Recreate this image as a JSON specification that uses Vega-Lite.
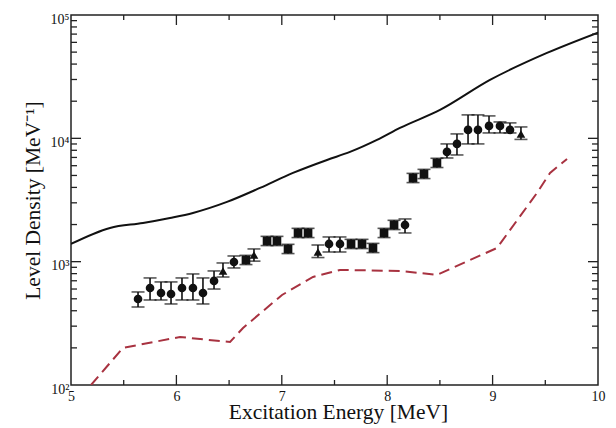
{
  "$schema": "https://vega.github.io/schema/vega-lite/v6.json",
  "width": 527,
  "height": 370,
  "autosize": "none",
  "padding": {"left": 71, "top": 15, "right": 18, "bottom": 43},
  "background": "white",
  "config": {
    "view": {"stroke": "#222", "strokeWidth": 1.5},
    "font": "Liberation Serif",
    "axis": {"labelFont": "Liberation Serif", "titleFont": "Liberation Serif", "labelColor": "#111", "titleColor": "#111", "titleFontWeight": "normal", "grid": false, "domain": false, "ticks": false}
  },
  "datasets": {
    "points": [
      {"E": 5.636, "v": 498, "lo": 429, "hi": 568, "m": "circle"},
      {"E": 5.75, "v": 612, "lo": 489, "hi": 738, "m": "circle"},
      {"E": 5.854, "v": 557, "lo": 489, "hi": 685, "m": "circle"},
      {"E": 5.949, "v": 547, "lo": 454, "hi": 685, "m": "circle"},
      {"E": 6.053, "v": 612, "lo": 489, "hi": 738, "m": "circle"},
      {"E": 6.157, "v": 612, "lo": 489, "hi": 795, "m": "circle"},
      {"E": 6.252, "v": 557, "lo": 454, "hi": 738, "m": "circle"},
      {"E": 6.357, "v": 698, "lo": 600, "hi": 841, "m": "circle"},
      {"E": 6.442, "v": 841, "lo": 751, "hi": 976, "m": "triangle"},
      {"E": 6.546, "v": 994, "lo": 889, "hi": 1112, "m": "circle"},
      {"E": 6.66, "v": 1032, "lo": 947, "hi": 1125, "m": "square"},
      {"E": 6.736, "v": 1133, "lo": 1010, "hi": 1268, "m": "triangle"},
      {"E": 6.86, "v": 1472, "lo": 1350, "hi": 1604, "m": "square"},
      {"E": 6.954, "v": 1472, "lo": 1350, "hi": 1604, "m": "square"},
      {"E": 7.059, "v": 1268, "lo": 1163, "hi": 1382, "m": "square"},
      {"E": 7.154, "v": 1709, "lo": 1568, "hi": 1863, "m": "square"},
      {"E": 7.249, "v": 1709, "lo": 1568, "hi": 1863, "m": "square"},
      {"E": 7.343, "v": 1198, "lo": 1080, "hi": 1365, "m": "triangle"},
      {"E": 7.448, "v": 1392, "lo": 1198, "hi": 1586, "m": "circle"},
      {"E": 7.552, "v": 1392, "lo": 1198, "hi": 1586, "m": "circle"},
      {"E": 7.657, "v": 1392, "lo": 1277, "hi": 1517, "m": "square"},
      {"E": 7.761, "v": 1392, "lo": 1277, "hi": 1517, "m": "square"},
      {"E": 7.865, "v": 1291, "lo": 1184, "hi": 1407, "m": "square"},
      {"E": 7.97, "v": 1709, "lo": 1568, "hi": 1863, "m": "square"},
      {"E": 8.065, "v": 1985, "lo": 1821, "hi": 2164, "m": "square"},
      {"E": 8.169, "v": 1985, "lo": 1709, "hi": 2220, "m": "circle"},
      {"E": 8.245, "v": 4770, "lo": 4376, "hi": 5199, "m": "square"},
      {"E": 8.349, "v": 5140, "lo": 4716, "hi": 5603, "m": "square"},
      {"E": 8.472, "v": 6320, "lo": 5798, "hi": 6889, "m": "square"},
      {"E": 8.567, "v": 7760, "lo": 6930, "hi": 9010, "m": "circle"},
      {"E": 8.662, "v": 9010, "lo": 7330, "hi": 10860, "m": "circle"},
      {"E": 8.767, "v": 11700, "lo": 9010, "hi": 15490, "m": "circle"},
      {"E": 8.861, "v": 11700, "lo": 9010, "hi": 15490, "m": "circle"},
      {"E": 8.966, "v": 12610, "lo": 11060, "hi": 15200, "m": "circle"},
      {"E": 9.07, "v": 12610, "lo": 11060, "hi": 13580, "m": "circle"},
      {"E": 9.165, "v": 11700, "lo": 11060, "hi": 13340, "m": "circle"},
      {"E": 9.269, "v": 10860, "lo": 9800, "hi": 12370, "m": "triangle"}
    ],
    "solid": [
      {"E": 5.0, "v": 1392},
      {"E": 5.37, "v": 1877},
      {"E": 5.683, "v": 2060},
      {"E": 5.939, "v": 2262},
      {"E": 6.157, "v": 2483},
      {"E": 6.48, "v": 3050},
      {"E": 6.793, "v": 3960},
      {"E": 7.106, "v": 5243},
      {"E": 7.429, "v": 6680},
      {"E": 7.647, "v": 7757},
      {"E": 7.903, "v": 9705},
      {"E": 8.121, "v": 12140},
      {"E": 8.501, "v": 16995},
      {"E": 8.975, "v": 29760},
      {"E": 9.516, "v": 49270},
      {"E": 10.0, "v": 72000}
    ],
    "dashed": [
      {"E": 5.19, "v": 100},
      {"E": 5.493, "v": 200},
      {"E": 6.034, "v": 245},
      {"E": 6.509, "v": 223},
      {"E": 6.632, "v": 290},
      {"E": 7.002, "v": 537},
      {"E": 7.296, "v": 751},
      {"E": 7.552, "v": 857},
      {"E": 8.121, "v": 841},
      {"E": 8.472, "v": 781},
      {"E": 9.042, "v": 1292},
      {"E": 9.421, "v": 3607},
      {"E": 9.545, "v": 5240},
      {"E": 9.706, "v": 6810}
    ],
    "xmajor": [{"t": 6}, {"t": 7}, {"t": 8}, {"t": 9}],
    "xminor": [{"t": 5.5}, {"t": 6.5}, {"t": 7.5}, {"t": 8.5}, {"t": 9.5}],
    "ymajor": [{"t": 1000}, {"t": 10000}],
    "yminor": [{"t": 200}, {"t": 300}, {"t": 400}, {"t": 500}, {"t": 600}, {"t": 700}, {"t": 800}, {"t": 900}, {"t": 2000}, {"t": 3000}, {"t": 4000}, {"t": 5000}, {"t": 6000}, {"t": 7000}, {"t": 8000}, {"t": 9000}, {"t": 20000}, {"t": 30000}, {"t": 40000}, {"t": 50000}, {"t": 60000}, {"t": 70000}, {"t": 80000}, {"t": 90000}]
  },
  "layer": [
    {
      "data": {"name": "solid"},
      "mark": {"type": "line", "interpolate": "monotone", "color": "#111", "strokeWidth": 2, "clip": true},
      "encoding": {
        "x": {"field": "E", "type": "quantitative", "scale": {"domain": [5, 10], "nice": false, "zero": false},
          "axis": {"title": "Excitation Energy [MeV]", "titleFontSize": 21.5, "titleY": 33, "titleX": 267, "titleBaseline": "alphabetic", "values": [5, 6, 7, 8, 9, 10], "format": "d", "labelFontSize": 14, "labelPadding": 4, "labelFlush": false, "labelOverlap": false}},
        "y": {"field": "v", "type": "quantitative", "scale": {"type": "log", "domain": [100, 100000], "nice": false},
          "axis": {"title": "Level Density [MeV⁻¹]", "titleFontSize": 21.5, "titlePadding": 6, "values": [100, 1000, 10000, 100000], "labelExpr": "datum.value === 100 ? '10²' : datum.value === 1000 ? '10³' : datum.value === 10000 ? '10⁴' : '10⁵'", "labelFontSize": 14, "labelPadding": 2, "labelOffset": 4, "labelFlush": false, "labelOverlap": false}}
      }
    },
    {
      "data": {"name": "dashed"},
      "mark": {"type": "line", "color": "#a83240", "strokeWidth": 2, "strokeDash": [11, 6], "clip": true},
      "encoding": {
        "x": {"field": "E", "type": "quantitative",
          "axis": {"title": "Excitation Energy [MeV]", "titleFontSize": 21.5, "titleY": 33, "titleX": 267, "titleBaseline": "alphabetic", "values": [5, 6, 7, 8, 9, 10], "format": "d", "labelFontSize": 14, "labelPadding": 4, "labelFlush": false, "labelOverlap": false}},
        "y": {"field": "v", "type": "quantitative",
          "axis": {"title": "Level Density [MeV⁻¹]", "titleFontSize": 21.5, "titlePadding": 6, "values": [100, 1000, 10000, 100000], "labelExpr": "datum.value === 100 ? '10²' : datum.value === 1000 ? '10³' : datum.value === 10000 ? '10⁴' : '10⁵'", "labelFontSize": 14, "labelPadding": 2, "labelOffset": 4, "labelFlush": false, "labelOverlap": false}}
      }
    },
    {
      "data": {"name": "xmajor"},
      "mark": {"type": "rule", "color": "#222", "strokeWidth": 1.3},
      "encoding": {
        "x": {"field": "t", "type": "quantitative",
          "axis": {"title": "Excitation Energy [MeV]", "titleFontSize": 21.5, "titleY": 33, "titleX": 267, "titleBaseline": "alphabetic", "values": [5, 6, 7, 8, 9, 10], "format": "d", "labelFontSize": 14, "labelPadding": 4, "labelFlush": false, "labelOverlap": false}},
        "y": {"datum": 100, "type": "quantitative",
          "axis": {"title": "Level Density [MeV⁻¹]", "titleFontSize": 21.5, "titlePadding": 6, "values": [100, 1000, 10000, 100000], "labelExpr": "datum.value === 100 ? '10²' : datum.value === 1000 ? '10³' : datum.value === 10000 ? '10⁴' : '10⁵'", "labelFontSize": 14, "labelPadding": 2, "labelOffset": 4, "labelFlush": false, "labelOverlap": false}},
        "y2": {"datum": 120.5}}
    },
    {
      "data": {"name": "xmajor"},
      "mark": {"type": "rule", "color": "#222", "strokeWidth": 1.3},
      "encoding": {
        "x": {"field": "t", "type": "quantitative",
          "axis": {"title": "Excitation Energy [MeV]", "titleFontSize": 21.5, "titleY": 33, "titleX": 267, "titleBaseline": "alphabetic", "values": [5, 6, 7, 8, 9, 10], "format": "d", "labelFontSize": 14, "labelPadding": 4, "labelFlush": false, "labelOverlap": false}},
        "y": {"datum": 100000, "type": "quantitative",
          "axis": {"title": "Level Density [MeV⁻¹]", "titleFontSize": 21.5, "titlePadding": 6, "values": [100, 1000, 10000, 100000], "labelExpr": "datum.value === 100 ? '10²' : datum.value === 1000 ? '10³' : datum.value === 10000 ? '10⁴' : '10⁵'", "labelFontSize": 14, "labelPadding": 2, "labelOffset": 4, "labelFlush": false, "labelOverlap": false}},
        "y2": {"datum": 83000}}
    },
    {
      "data": {"name": "xminor"},
      "mark": {"type": "rule", "color": "#222", "strokeWidth": 1.3},
      "encoding": {
        "x": {"field": "t", "type": "quantitative",
          "axis": {"title": "Excitation Energy [MeV]", "titleFontSize": 21.5, "titleY": 33, "titleX": 267, "titleBaseline": "alphabetic", "values": [5, 6, 7, 8, 9, 10], "format": "d", "labelFontSize": 14, "labelPadding": 4, "labelFlush": false, "labelOverlap": false}},
        "y": {"datum": 100, "type": "quantitative",
          "axis": {"title": "Level Density [MeV⁻¹]", "titleFontSize": 21.5, "titlePadding": 6, "values": [100, 1000, 10000, 100000], "labelExpr": "datum.value === 100 ? '10²' : datum.value === 1000 ? '10³' : datum.value === 10000 ? '10⁴' : '10⁵'", "labelFontSize": 14, "labelPadding": 2, "labelOffset": 4, "labelFlush": false, "labelOverlap": false}},
        "y2": {"datum": 109.8}}
    },
    {
      "data": {"name": "xminor"},
      "mark": {"type": "rule", "color": "#222", "strokeWidth": 1.3},
      "encoding": {
        "x": {"field": "t", "type": "quantitative",
          "axis": {"title": "Excitation Energy [MeV]", "titleFontSize": 21.5, "titleY": 33, "titleX": 267, "titleBaseline": "alphabetic", "values": [5, 6, 7, 8, 9, 10], "format": "d", "labelFontSize": 14, "labelPadding": 4, "labelFlush": false, "labelOverlap": false}},
        "y": {"datum": 100000, "type": "quantitative",
          "axis": {"title": "Level Density [MeV⁻¹]", "titleFontSize": 21.5, "titlePadding": 6, "values": [100, 1000, 10000, 100000], "labelExpr": "datum.value === 100 ? '10²' : datum.value === 1000 ? '10³' : datum.value === 10000 ? '10⁴' : '10⁵'", "labelFontSize": 14, "labelPadding": 2, "labelOffset": 4, "labelFlush": false, "labelOverlap": false}},
        "y2": {"datum": 91000}}
    },
    {
      "data": {"name": "ymajor"},
      "mark": {"type": "rule", "color": "#222", "strokeWidth": 1.3},
      "encoding": {
        "y": {"field": "t", "type": "quantitative",
          "axis": {"title": "Level Density [MeV⁻¹]", "titleFontSize": 21.5, "titlePadding": 6, "values": [100, 1000, 10000, 100000], "labelExpr": "datum.value === 100 ? '10²' : datum.value === 1000 ? '10³' : datum.value === 10000 ? '10⁴' : '10⁵'", "labelFontSize": 14, "labelPadding": 2, "labelOffset": 4, "labelFlush": false, "labelOverlap": false}},
        "x": {"datum": 5, "type": "quantitative",
          "axis": {"title": "Excitation Energy [MeV]", "titleFontSize": 21.5, "titleY": 33, "titleX": 267, "titleBaseline": "alphabetic", "values": [5, 6, 7, 8, 9, 10], "format": "d", "labelFontSize": 14, "labelPadding": 4, "labelFlush": false, "labelOverlap": false}},
        "x2": {"datum": 5.095}}
    },
    {
      "data": {"name": "ymajor"},
      "mark": {"type": "rule", "color": "#222", "strokeWidth": 1.3},
      "encoding": {
        "y": {"field": "t", "type": "quantitative",
          "axis": {"title": "Level Density [MeV⁻¹]", "titleFontSize": 21.5, "titlePadding": 6, "values": [100, 1000, 10000, 100000], "labelExpr": "datum.value === 100 ? '10²' : datum.value === 1000 ? '10³' : datum.value === 10000 ? '10⁴' : '10⁵'", "labelFontSize": 14, "labelPadding": 2, "labelOffset": 4, "labelFlush": false, "labelOverlap": false}},
        "x": {"datum": 10, "type": "quantitative",
          "axis": {"title": "Excitation Energy [MeV]", "titleFontSize": 21.5, "titleY": 33, "titleX": 267, "titleBaseline": "alphabetic", "values": [5, 6, 7, 8, 9, 10], "format": "d", "labelFontSize": 14, "labelPadding": 4, "labelFlush": false, "labelOverlap": false}},
        "x2": {"datum": 9.905}}
    },
    {
      "data": {"name": "yminor"},
      "mark": {"type": "rule", "color": "#222", "strokeWidth": 1.3},
      "encoding": {
        "y": {"field": "t", "type": "quantitative",
          "axis": {"title": "Level Density [MeV⁻¹]", "titleFontSize": 21.5, "titlePadding": 6, "values": [100, 1000, 10000, 100000], "labelExpr": "datum.value === 100 ? '10²' : datum.value === 1000 ? '10³' : datum.value === 10000 ? '10⁴' : '10⁵'", "labelFontSize": 14, "labelPadding": 2, "labelOffset": 4, "labelFlush": false, "labelOverlap": false}},
        "x": {"datum": 5, "type": "quantitative",
          "axis": {"title": "Excitation Energy [MeV]", "titleFontSize": 21.5, "titleY": 33, "titleX": 267, "titleBaseline": "alphabetic", "values": [5, 6, 7, 8, 9, 10], "format": "d", "labelFontSize": 14, "labelPadding": 4, "labelFlush": false, "labelOverlap": false}},
        "x2": {"datum": 5.057}}
    },
    {
      "data": {"name": "yminor"},
      "mark": {"type": "rule", "color": "#222", "strokeWidth": 1.3},
      "encoding": {
        "y": {"field": "t", "type": "quantitative",
          "axis": {"title": "Level Density [MeV⁻¹]", "titleFontSize": 21.5, "titlePadding": 6, "values": [100, 1000, 10000, 100000], "labelExpr": "datum.value === 100 ? '10²' : datum.value === 1000 ? '10³' : datum.value === 10000 ? '10⁴' : '10⁵'", "labelFontSize": 14, "labelPadding": 2, "labelOffset": 4, "labelFlush": false, "labelOverlap": false}},
        "x": {"datum": 10, "type": "quantitative",
          "axis": {"title": "Excitation Energy [MeV]", "titleFontSize": 21.5, "titleY": 33, "titleX": 267, "titleBaseline": "alphabetic", "values": [5, 6, 7, 8, 9, 10], "format": "d", "labelFontSize": 14, "labelPadding": 4, "labelFlush": false, "labelOverlap": false}},
        "x2": {"datum": 9.943}}
    },
    {
      "data": {"name": "points"},
      "mark": {"type": "errorbar", "color": "#111", "thickness": 1.6, "ticks": {"size": 13, "color": "#111", "thickness": 1.6}},
      "encoding": {
        "x": {"field": "E", "type": "quantitative",
          "axis": {"title": "Excitation Energy [MeV]", "titleFontSize": 21.5, "titleY": 33, "titleX": 267, "titleBaseline": "alphabetic", "values": [5, 6, 7, 8, 9, 10], "format": "d", "labelFontSize": 14, "labelPadding": 4, "labelFlush": false, "labelOverlap": false}},
        "y": {"field": "lo", "type": "quantitative",
          "axis": {"title": "Level Density [MeV⁻¹]", "titleFontSize": 21.5, "titlePadding": 6, "values": [100, 1000, 10000, 100000], "labelExpr": "datum.value === 100 ? '10²' : datum.value === 1000 ? '10³' : datum.value === 10000 ? '10⁴' : '10⁵'", "labelFontSize": 14, "labelPadding": 2, "labelOffset": 4, "labelFlush": false, "labelOverlap": false}},
        "y2": {"field": "hi"}
      }
    },
    {
      "data": {"name": "points"},
      "mark": {"type": "point", "filled": true, "opacity": 1, "size": 75, "color": "#111"},
      "encoding": {
        "x": {"field": "E", "type": "quantitative",
          "axis": {"title": "Excitation Energy [MeV]", "titleFontSize": 21.5, "titleY": 33, "titleX": 267, "titleBaseline": "alphabetic", "values": [5, 6, 7, 8, 9, 10], "format": "d", "labelFontSize": 14, "labelPadding": 4, "labelFlush": false, "labelOverlap": false}},
        "y": {"field": "v", "type": "quantitative",
          "axis": {"title": "Level Density [MeV⁻¹]", "titleFontSize": 21.5, "titlePadding": 6, "values": [100, 1000, 10000, 100000], "labelExpr": "datum.value === 100 ? '10²' : datum.value === 1000 ? '10³' : datum.value === 10000 ? '10⁴' : '10⁵'", "labelFontSize": 14, "labelPadding": 2, "labelOffset": 4, "labelFlush": false, "labelOverlap": false}},
        "shape": {"field": "m", "type": "nominal", "legend": null,
          "scale": {"domain": ["circle", "square", "triangle"], "range": ["circle", "square", "triangle-up"]}}
      }
    }
  ]
}
